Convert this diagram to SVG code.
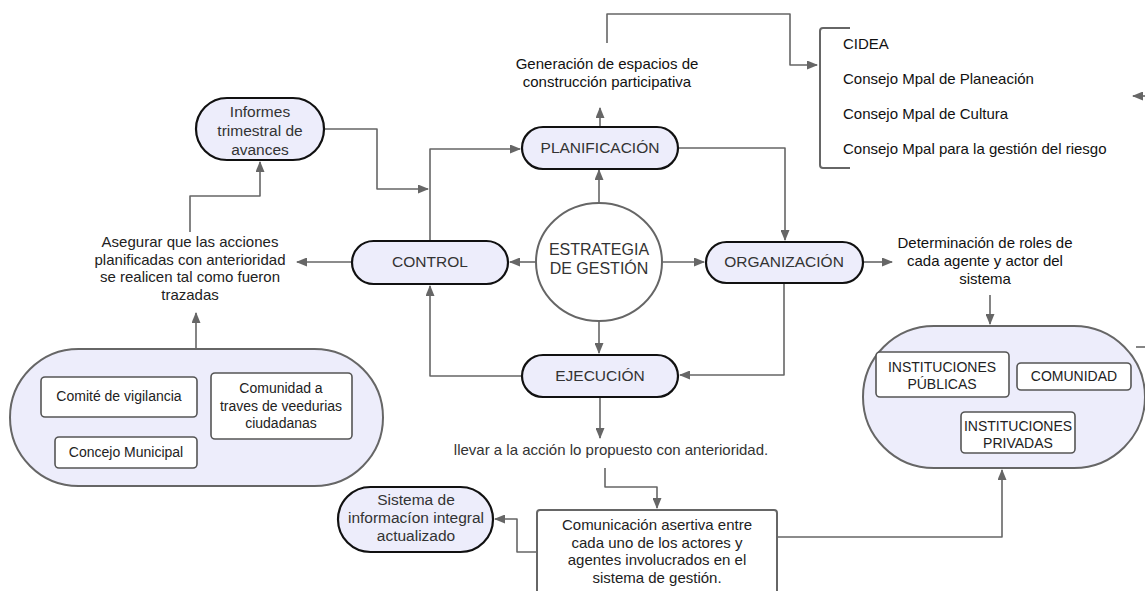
<svg xmlns="http://www.w3.org/2000/svg" width="1145" height="591" viewBox="0 0 1145 591">
<defs>
<marker id="ah" markerWidth="11" markerHeight="9" refX="10" refY="4.5" orient="auto" markerUnits="userSpaceOnUse">
<path d="M0,0 L11,4.5 L0,9 Z" fill="#666"/>
</marker>
<style>
.e{fill:none;stroke:#666;stroke-width:1.6;stroke-linejoin:round}
.ea{fill:none;stroke:#666;stroke-width:1.6;stroke-linejoin:round;marker-end:url(#ah)}
.n{fill:#ededfb;stroke:#111;stroke-width:2.2}
.c{fill:#ededfb;stroke:#666;stroke-width:2}
.b{fill:#fff;stroke:#555;stroke-width:1.6}
.t{font-family:"Liberation Sans",Arial,sans-serif;font-size:15.5px;fill:#333;text-anchor:middle}
.l{font-family:"Liberation Sans",Arial,sans-serif;font-size:15px;fill:#111;text-anchor:middle}
.ls{font-family:"Liberation Sans",Arial,sans-serif;font-size:15px;fill:#111;text-anchor:start}
.s{font-family:"Liberation Sans",Arial,sans-serif;font-size:14px;fill:#222;text-anchor:middle}
</style>
</defs>
<rect width="1145" height="591" fill="#fff"/>
<g id="connectors">
<path class="ea" d="M324,129 H377 V189 H428"/>
<path class="ea" d="M430,241 V149 H520"/>
<path class="ea" d="M599,203 V170"/>
<path class="ea" d="M600,127 V108"/>
<path class="ea" d="M607,43 V14 H790 V65 H817"/>
<path class="ea" d="M678,148 H785 V240"/>
<path class="ea" d="M536,262 H510"/>
<path class="ea" d="M663,262 H704"/>
<path class="ea" d="M599,321 V353"/>
<path class="ea" d="M522,376 H430 V286"/>
<path class="ea" d="M784,283 V375 H680"/>
<path class="ea" d="M863,262 H892"/>
<path class="ea" d="M990,295 V324"/>
<path class="ea" d="M352,262 H297"/>
<path class="ea" d="M190,232 V196 H260 V162"/>
<path class="ea" d="M196,349 V313"/>
<path class="ea" d="M600,398 V438"/>
<path class="ea" d="M605,468 V487 H657 V508"/>
<path class="ea" d="M537,552 H517 V519 H495"/>
<path class="ea" d="M777,537 H1002 V470"/>
<path class="ea" d="M1145,96 H1133"/>
<path class="e" d="M1136,347 H1145"/>
</g>
<g id="informes">
<rect class="n" x="196" y="98" width="128" height="62" rx="31"/>
<text class="t" x="260" y="117">Informes</text>
<text class="t" x="260" y="136">trimestral de</text>
<text class="t" x="260" y="155">avances</text>
</g>
<g id="planificacion">
<rect class="n" x="522" y="127" width="156" height="42" rx="21"/>
<text class="t" x="600" y="153">PLANIFICACIÓN</text>
</g>
<g id="generacion">
<text class="l" x="607" y="69">Generación de espacios de</text>
<text class="l" x="607" y="87">construcción participativa</text>
</g>
<g id="consejos">
<path d="M850,28 H823 Q820,28 820,31 V165 Q820,168 823,168 H850" fill="none" stroke="#666" stroke-width="2"/>
<text class="ls" x="843" y="49">CIDEA</text>
<text class="ls" x="843" y="84">Consejo Mpal de Planeación</text>
<text class="ls" x="843" y="119">Consejo Mpal de Cultura</text>
<text class="ls" x="843" y="154">Consejo Mpal para la gestión del riesgo</text>
</g>
<g id="estrategia">
<ellipse cx="599" cy="262" rx="63" ry="59" fill="#fff" stroke="#666" stroke-width="2"/>
<text class="t" x="599" y="255" style="font-size:16px">ESTRATEGIA</text>
<text class="t" x="599" y="274" style="font-size:16px">DE GESTIÓN</text>
</g>
<g id="control">
<rect class="n" x="352" y="241" width="156" height="43" rx="21.5"/>
<text class="t" x="430" y="267">CONTROL</text>
</g>
<g id="organizacion">
<rect class="n" x="706" y="242" width="157" height="41" rx="20.5"/>
<text class="t" x="784" y="267">ORGANIZACIÓN</text>
</g>
<g id="ejecucion">
<rect class="n" x="522" y="355" width="156" height="42" rx="21"/>
<text class="t" x="600" y="381">EJECUCIÓN</text>
</g>
<g id="asegurar">
<text class="t" x="190" y="247" style="fill:#222;font-size:15px">Asegurar que las acciones</text>
<text class="t" x="190" y="264.5" style="fill:#222;font-size:15px">planificadas con anterioridad</text>
<text class="t" x="190" y="282" style="fill:#222;font-size:15px">se realicen tal como fueron</text>
<text class="t" x="190" y="299.5" style="fill:#222;font-size:15px">trazadas</text>
</g>
<g id="determinacion">
<text class="l" x="985" y="248">Determinación de roles de</text>
<text class="l" x="985" y="266">cada agente y actor del</text>
<text class="l" x="985" y="284">sistema</text>
</g>
<g id="actores">
<rect class="c" x="863" y="326" width="282" height="142" rx="71"/>
<rect class="b" x="876" y="352" width="133" height="45" rx="4"/>
<text class="s" x="942" y="372">INSTITUCIONES</text>
<text class="s" x="942" y="389">PÚBLICAS</text>
<rect class="b" x="1017" y="363" width="114" height="27" rx="4"/>
<text class="s" x="1074" y="381">COMUNIDAD</text>
<rect class="b" x="961" y="412" width="114" height="41" rx="4"/>
<text class="s" x="1018" y="431">INSTITUCIONES</text>
<text class="s" x="1018" y="448">PRIVADAS</text>
</g>
<g id="vigilancia">
<rect class="c" x="10" y="349" width="373" height="137" rx="68.5"/>
<rect class="b" x="41" y="377" width="156" height="40" rx="4"/>
<text class="s" x="119" y="401">Comité de vigilancia</text>
<rect class="b" x="55" y="437" width="142" height="31" rx="4"/>
<text class="s" x="126" y="457">Concejo Municipal</text>
<rect class="b" x="211" y="373" width="141" height="66" rx="4"/>
<text class="s" x="281" y="393">Comunidad a</text>
<text class="s" x="281" y="410.5">traves de veedurias</text>
<text class="s" x="281" y="428">ciudadanas</text>
</g>
<g id="llevar">
<text class="l" x="611" y="455" style="fill:#333">llevar a la acción lo propuesto con anterioridad.</text>
</g>
<g id="comunicacion">
<rect x="537" y="510" width="240" height="95" rx="3" fill="#fff" stroke="#666" stroke-width="2"/>
<text class="l" x="657" y="530" style="fill:#222">Comunicación asertiva entre</text>
<text class="l" x="657" y="547.5" style="fill:#222">cada uno de los actores y</text>
<text class="l" x="657" y="565" style="fill:#222">agentes involucrados en el</text>
<text class="l" x="657" y="582.5" style="fill:#222">sistema de gestión.</text>
</g>
<g id="sistema">
<rect class="n" x="338" y="487" width="155" height="65" rx="32.5"/>
<text class="t" x="416" y="505">Sistema de</text>
<text class="t" x="416" y="523">informacíon integral</text>
<text class="t" x="416" y="541">actualizado</text>
</g>
</svg>
